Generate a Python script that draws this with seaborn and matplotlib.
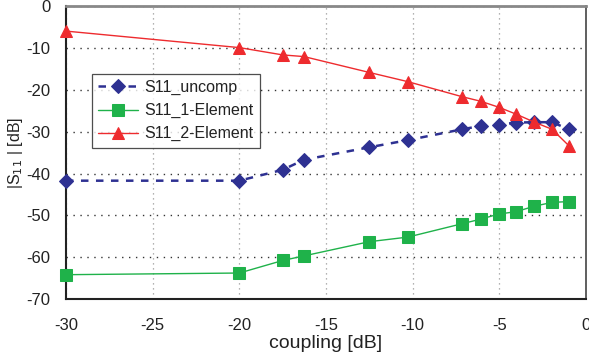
import matplotlib
matplotlib.use("Agg")
import matplotlib.pyplot as plt
import seaborn as sns
import pandas as pd

coupling = [-30, -20, -17.5, -16.27, -12.5, -10.28, -7.15, -6.07, -5.05, -4.02, -2.98, -1.96, -1.0]
s11_uncomp = [-41.7, -41.7, -39.1, -36.7, -33.7, -32.0, -29.4, -28.6, -28.3, -27.8, -27.7, -27.7, -29.4]
s11_1elem = [-64.2, -63.8, -60.8, -59.7, -56.3, -55.2, -52.0, -50.9, -49.7, -49.1, -47.8, -46.9, -46.7]
s11_2elem = [-5.9, -9.85, -11.6, -12.0, -15.8, -18.0, -21.6, -22.7, -24.1, -25.8, -27.7, -29.4, -33.3]

series_names = ["S11_uncomp", "S11_1-Element", "S11_2-Element"]
xticks = [-30, -25, -20, -15, -10, -5, 0]
yticks = [0, -10, -20, -30, -40, -50, -60, -70]

sns.set_theme(style="white")
plt.rcParams['font.family'] = ['Liberation Sans', 'DejaVu Sans']

fig = plt.figure(figsize=(5.89, 3.58), dpi=100)
ax = fig.add_axes([0.112, 0.165, 0.883, 0.817])

df = pd.DataFrame({"coupling": coupling, series_names[0]: s11_uncomp,
                   series_names[1]: s11_1elem, series_names[2]: s11_2elem})

sns.lineplot(data=df, x="coupling", y=series_names[0], ax=ax, color="#2E3192",
             linestyle=(0, (3, 3)), linewidth=1.8, marker="D", markersize=7,
             markeredgecolor="#2E3192", label=series_names[0], clip_on=False, zorder=5)
sns.lineplot(data=df, x="coupling", y=series_names[1], ax=ax, color="#1FB24A",
             linewidth=1.0, marker="s", markersize=9, markeredgecolor="#1FB24A",
             label=series_names[1], clip_on=False, zorder=5)
sns.lineplot(data=df, x="coupling", y=series_names[2], ax=ax, color="#EE2B2E",
             linewidth=1.0, marker="^", markersize=9, markeredgecolor="#EE2B2E",
             label=series_names[2], clip_on=False, zorder=5)

ax.set_xlim(-30, 0)
ax.set_ylim(-70, 0)
ax.set_xticks(xticks)
ax.set_yticks(yticks)
ax.set_xticklabels([str(t) for t in xticks], fontsize=12, color="#222222")
ax.set_yticklabels([str(t) for t in yticks], fontsize=12, color="#222222")
ax.tick_params(axis="both", direction="out", length=5, width=1.2, color="#222222")
ax.tick_params(axis="y", pad=6)
ax.tick_params(axis="x", pad=9)
ax.yaxis.grid(True, linestyle=(0, (1, 4)), color="#333333", linewidth=1.0)
ax.xaxis.grid(True, linestyle=(0, (1, 3)), color="#999999", linewidth=0.9)

ax.set_xlabel("coupling [dB]", fontsize=14, color="#222222", labelpad=1)
ax.set_ylabel("|S$_{11}$ | [dB]", fontsize=11.5, color="#222222")
ax.yaxis.set_label_coords(-0.078, 0.5)

for side in ["left", "bottom"]:
    ax.spines[side].set_color("#222222")
    ax.spines[side].set_linewidth(1.5)
ax.spines["top"].set_color("#888888")
ax.spines["top"].set_linewidth(2.0)
ax.spines["right"].set_color("#444444")
ax.spines["right"].set_linewidth(1.2)

leg = ax.legend(loc="upper left", bbox_to_anchor=(0.05, 0.769), fontsize=11.5,
                frameon=True, fancybox=False, edgecolor="#222222",
                handlelength=2.5, borderpad=0.38, labelspacing=0.5,
                handletextpad=0.4, borderaxespad=0)
leg.get_frame().set_linewidth(0.9)
for t in leg.get_texts():
    t.set_color("#222222")

fig.savefig("out.png", dpi=100)
